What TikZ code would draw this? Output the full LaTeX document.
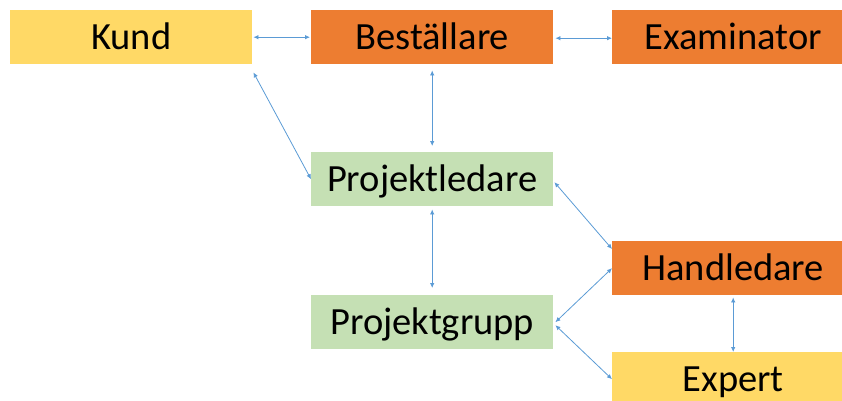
\documentclass[tikz,border=0pt]{standalone}
\usepackage{fontspec}
\setmainfont{Carlito}
\usetikzlibrary{arrows.meta,calc}
\definecolor{kyellow}{RGB}{255,217,102}
\definecolor{korange}{RGB}{237,125,49}
\definecolor{kgreen}{RGB}{197,224,180}
\definecolor{kblue}{RGB}{91,155,213}
\begin{document}
\begin{tikzpicture}[x=1pt,y=-1pt,
  box/.style={minimum width=242pt,minimum height=54pt,inner sep=0pt,
    text height=25pt,text depth=0pt,font=\fontsize{38.5}{42}\selectfont,anchor=north west},
  link/.style={draw=kblue,line width=0.8pt,{Latex[length=5pt,width=4.5pt]}-{Latex[length=5pt,width=4.5pt]}}]
\useasboundingbox (0,0) rectangle (842,400);
\clip (0,0) rectangle (842,400);
\node[box,fill=kyellow] (kund) at (10,10) {Kund};
\node[box,fill=korange] (best) at (311,10) {Beställare};
\node[box,fill=korange] (exam) at (612,10) {Examinator};
\node[box,fill=kgreen] (pl) at (311,152) {Projektledare};
\node[box,fill=kgreen] (pg) at (311,295) {Projektgrupp};
\node[box,fill=korange] (hand) at (612,241) {Handledare};
\node[box,fill=kyellow] (exp) at (612,352) {Expert};
% connectors
\draw[link,shorten <=1pt,shorten >=1pt] (kund.east) -- (best.west);
\draw[link,shorten <=2pt,shorten >=0pt] ($(best.east)+(0,1)$) -- ($(exam.west)+(0,1)$);
\draw[link] ($(kund.south east)+(1,8)$) -- (pl.west);
\draw[link,shorten <=6pt,shorten >=6pt] (best.south) -- (pl.north);
\draw[link,shorten <=3pt,shorten >=7pt] (pl.south) -- (pg.north);
\draw[link] ($(pl.east)+(1,3)$) -- ($(hand.north west)+(0,8)$);
\draw[link] (hand.west) -- ($(pg.east)+(2,0)$);
\draw[link] ($(pg.east)+(2,3)$) -- (exp.west);
\draw[link,shorten <=2pt] (hand.south) -- (exp.north);
\end{tikzpicture}
\end{document}
